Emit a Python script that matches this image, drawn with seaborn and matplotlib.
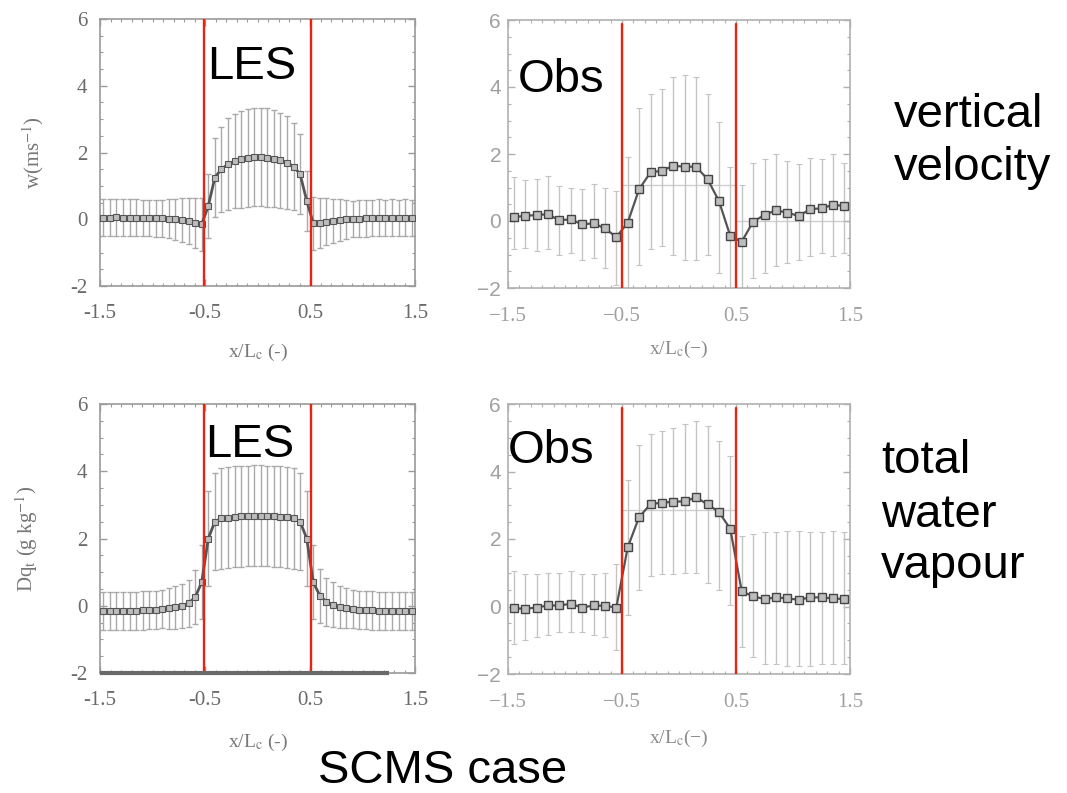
import matplotlib
matplotlib.use("Agg")
import matplotlib.pyplot as plt
from matplotlib.ticker import MultipleLocator
import seaborn as sns

# ---------------- data ----------------
les_x = [-1.46875, -1.40625, -1.34375, -1.28125, -1.21875, -1.15625, -1.09375, -1.03125,
         -0.96875, -0.90625, -0.84375, -0.78125, -0.71875, -0.65625, -0.59375, -0.53125,
         -0.46875, -0.40625, -0.34375, -0.28125, -0.21875, -0.15625, -0.09375, -0.03125,
         0.03125, 0.09375, 0.15625, 0.21875, 0.28125, 0.34375, 0.40625, 0.46875,
         0.53125, 0.59375, 0.65625, 0.71875, 0.78125, 0.84375, 0.90625, 0.96875,
         1.03125, 1.09375, 1.15625, 1.21875, 1.28125, 1.34375, 1.40625, 1.46875]

les_w = [0.05, 0.05, 0.06, 0.05, 0.05, 0.05, 0.04, 0.04, 0.03, 0.03, 0.02, 0.0,
         -0.02, -0.05, -0.10, -0.15, 0.40, 1.25, 1.50, 1.65, 1.74, 1.80, 1.84, 1.86,
         1.86, 1.85, 1.82, 1.77, 1.70, 1.58, 1.35, 0.55, -0.12, -0.10, -0.07, -0.04,
         -0.02, 0.0, 0.01, 0.02, 0.03, 0.04, 0.05, 0.04, 0.05, 0.04, 0.05, 0.04]
les_w_err = [0.55, 0.55, 0.55, 0.55, 0.55, 0.55, 0.55, 0.55, 0.55, 0.55, 0.58, 0.62,
             0.66, 0.70, 0.75, 0.80, 0.95, 1.17, 1.27, 1.38, 1.40, 1.45, 1.47, 1.47,
             1.47, 1.47, 1.45, 1.42, 1.40, 1.30, 1.20, 0.90, 0.80, 0.75, 0.70, 0.66,
             0.62, 0.58, 0.55, 0.55, 0.55, 0.55, 0.55, 0.55, 0.55, 0.55, 0.55, 0.55]

les_q = [-0.15, -0.16, -0.15, -0.16, -0.15, -0.15, -0.14, -0.13, -0.12, -0.10, -0.08, -0.05,
         0.0, 0.08, 0.25, 0.70, 2.00, 2.50, 2.60, 2.62, 2.65, 2.66, 2.67, 2.68,
         2.68, 2.67, 2.66, 2.65, 2.63, 2.60, 2.50, 2.00, 0.70, 0.30, 0.12, 0.03,
         -0.03, -0.07, -0.10, -0.12, -0.13, -0.14, -0.15, -0.15, -0.16, -0.15, -0.16, -0.15]
les_q_err = [0.57, 0.57, 0.57, 0.57, 0.57, 0.57, 0.57, 0.57, 0.57, 0.57, 0.60, 0.63,
             0.66, 0.70, 0.80, 1.10, 1.40, 1.45, 1.50, 1.50, 1.50, 1.50, 1.50, 1.50,
             1.50, 1.50, 1.50, 1.50, 1.50, 1.50, 1.45, 1.40, 1.10, 0.80, 0.72, 0.67,
             0.63, 0.60, 0.57, 0.57, 0.57, 0.57, 0.57, 0.57, 0.57, 0.57, 0.57, 0.57]
les_q_floor_level = -2.0
les_q_floor_extent = [-1.5, 1.25]

obs_x = [-1.45, -1.35, -1.25, -1.15, -1.05, -0.95, -0.85, -0.75, -0.65, -0.55,
         -0.45, -0.35, -0.25, -0.15, -0.05, 0.05, 0.15, 0.25, 0.35, 0.45,
         0.55, 0.65, 0.75, 0.85, 0.95, 1.05, 1.15, 1.25, 1.35, 1.45]

obs_w = [0.12, 0.15, 0.18, 0.20, 0.02, 0.05, -0.10, -0.07, -0.22, -0.48,
         -0.05, 0.95, 1.45, 1.50, 1.65, 1.62, 1.62, 1.25, 0.60, -0.45,
         -0.62, -0.02, 0.18, 0.32, 0.25, 0.15, 0.35, 0.38, 0.48, 0.45]
obs_w_lo = [-0.85, -0.8, -0.9, -0.85, -1.0, -0.95, -1.15, -1.1, -1.4, -1.9,
            -2.3, -1.3, -0.85, -0.75, -1.0, -1.15, -1.15, -1.0, -1.55, -2.2,
            -2.2, -1.7, -1.55, -1.35, -1.25, -1.15, -1.05, -0.95, -1.05, -0.95]
obs_w_hi = [1.3, 1.22, 1.25, 1.35, 1.04, 1.0, 0.96, 1.1, 1.0, 0.9,
            1.92, 3.36, 3.8, 3.95, 4.3, 4.35, 4.3, 3.8, 2.96, 1.62,
            1.07, 1.73, 1.85, 2.0, 1.8, 1.7, 1.88, 1.85, 2.0, 1.74]
obs_w_cloud_mean = 1.07
obs_w_env_mean = 0.0

obs_q = [-0.05, -0.07, -0.03, 0.03, 0.03, 0.08, -0.03, 0.03, 0.02, -0.03,
         1.75, 2.65, 3.03, 3.08, 3.10, 3.12, 3.23, 3.03, 2.80, 2.30,
         0.45, 0.30, 0.22, 0.27, 0.24, 0.20, 0.27, 0.27, 0.24, 0.22]
obs_q_lo = [-1.1, -1.0, -0.9, -0.85, -0.75, -0.75, -0.75, -0.85, -0.9, -1.3,
            -0.25, 0.5, 0.9, 0.95, 0.95, 1.0, 1.0, 0.7, 0.5, 0.05,
            -1.2, -1.5, -1.7, -1.7, -1.75, -1.75, -1.75, -1.7, -1.7, -1.7]
obs_q_hi = [1.05, 0.95, 0.95, 1.0, 1.0, 1.05, 0.95, 0.95, 1.0, 1.25,
            3.75, 4.8, 5.1, 5.2, 5.3, 5.4, 5.5, 5.35, 4.9, 4.45,
            2.1, 2.15, 2.2, 2.2, 2.25, 2.25, 2.2, 2.2, 2.25, 2.2]
obs_q_cloud_mean = 2.85

les_edges = [-0.51, 0.51]
obs_edges = [-0.5, 0.5]

x_ticks = [-1.5, -0.5, 0.5, 1.5]
les_xticklabels = ["-1.5", "-0.5", "0.5", "1.5"]
obs_xticklabels = ["\u22121.5", "\u22120.5", "0.5", "1.5"]
y_ticks = [-2, 0, 2, 4, 6]
les_yticklabels = ["-2", "0", "2", "4", "6"]
obs_yticklabels = ["\u22122", "0", "2", "4", "6"]

# ---------------- style ----------------
sns.set_theme(style="white")
plt.rcParams["font.family"] = ["Liberation Serif", "DejaVu Serif"]
plt.rcParams["mathtext.fontset"] = "stix"

W, H = 1067, 793
fig = plt.figure(figsize=(W / 100, H / 100), dpi=100)


def add_ax(l, t, r, b):
    return fig.add_axes([l / W, 1 - b / H, (r - l) / W, (b - t) / H])


RED = "#e8230f"


def style(ax, spine_c, lab_c, xlabels, ylabels, tick_fs, xpad, ypad, yfont):
    ax.set_xlim(-1.5, 1.5)
    ax.set_ylim(-2, 6)
    ax.set_xticks(x_ticks)
    ax.set_xticklabels(xlabels, fontsize=tick_fs, color=lab_c)
    ax.set_yticks(y_ticks)
    ax.set_yticklabels(ylabels, fontsize=tick_fs, color=lab_c, family=yfont)
    ax.xaxis.set_minor_locator(MultipleLocator(0.1))
    ax.yaxis.set_minor_locator(MultipleLocator(0.5))
    ax.tick_params(which="both", direction="in", bottom=True, top=True,
                   left=True, right=True, color=spine_c)
    ax.tick_params(which="major", length=5, width=1)
    ax.tick_params(which="minor", length=2.5, width=0.8)
    ax.tick_params(axis="x", which="major", pad=xpad)
    ax.tick_params(axis="y", which="major", pad=ypad)
    for s in ax.spines.values():
        s.set_color(spine_c)
        s.set_linewidth(1.2)
    ax.set_facecolor("white")
    ax.grid(False)


def draw_les(ax, y, err):
    ax.errorbar(les_x, y, yerr=err, fmt="none", ecolor="#a9a9a9",
                elinewidth=1.0, capsize=2.5, capthick=1.0, zorder=1)
    sns.lineplot(x=les_x, y=y, ax=ax, color="#555555", lw=2.0, marker="s",
                 markersize=4.2, markerfacecolor="#bdbdbd",
                 markeredgecolor="#555555", markeredgewidth=0.8, zorder=3,
                 errorbar=None)
    for e in les_edges:
        ax.axvline(e, color=RED, lw=1.7, zorder=5)


def draw_obs(ax, y, lo, hi):
    yerr = [[m - a for m, a in zip(y, lo)], [b - m for m, b in zip(y, hi)]]
    ax.errorbar(obs_x, y, yerr=yerr, fmt="none", ecolor="#c4c4c4",
                elinewidth=1.0, capsize=2.0, capthick=0.8, zorder=1)
    sns.lineplot(x=obs_x, y=y, ax=ax, color="#555555", lw=1.6, marker="s",
                 markersize=6, markerfacecolor="#bdbdbd",
                 markeredgecolor="#444444", markeredgewidth=1.0, zorder=3,
                 errorbar=None)
    for e in obs_edges:
        ax.axvline(e, ymax=0.985, color=RED, lw=1.7, zorder=5)


# top-left: LES w
ax1 = add_ax(100, 19, 415, 286)
draw_les(ax1, les_w, les_w_err)
style(ax1, "#9a9a9a", "#6a6a6a", les_xticklabels, les_yticklabels, 15, 13, 9,
      ["Liberation Serif"])
ax1.set_xlabel("x/L$_\\mathrm{c}$ (-)", fontsize=14, color="#777777")
ax1.xaxis.set_label_coords(0.5, -0.21)
ax1.set_ylabel("w(ms$^{-1}$)", fontsize=15, color="#777777")
ax1.yaxis.set_label_coords(-0.17, 0.5)

# top-right: Obs w
ax2 = add_ax(508, 20, 850, 288)
ax2.hlines(obs_w_cloud_mean, obs_edges[0], obs_edges[1], color="#cfcfcf", lw=1.0, zorder=0)
ax2.hlines(obs_w_env_mean, obs_edges[1], 1.5, color="#cfcfcf", lw=1.0, zorder=0)
draw_obs(ax2, obs_w, obs_w_lo, obs_w_hi)
style(ax2, "#b0b0b0", "#a0a0a0", obs_xticklabels, obs_yticklabels, 15, 14, 5,
      ["Liberation Sans"])
ax2.set_xlabel("x/L$_\\mathrm{c}$(\u2212)", fontsize=14, color="#8a8a8a")
ax2.xaxis.set_label_coords(0.5, -0.19)

# bottom-left: LES q
ax3 = add_ax(100, 404, 415, 673)
ax3.hlines(les_q_floor_level, les_q_floor_extent[0], les_q_floor_extent[1],
           color="#6a6a6a", lw=3.0, zorder=6, clip_on=False)
draw_les(ax3, les_q, les_q_err)
style(ax3, "#9a9a9a", "#6a6a6a", les_xticklabels, les_yticklabels, 15, 13, 9,
      ["Liberation Serif"])
ax3.set_xlabel("x/L$_\\mathrm{c}$ (-)", fontsize=14, color="#777777")
ax3.xaxis.set_label_coords(0.5, -0.22)
ax3.set_ylabel("Dq$_\\mathrm{t}$ (g kg$^{-1}$)", fontsize=15, color="#777777")
ax3.yaxis.set_label_coords(-0.19, 0.5)

# bottom-right: Obs q
ax4 = add_ax(508, 404, 850, 674)
ax4.hlines(obs_q_cloud_mean, obs_edges[0], obs_edges[1], color="#cfcfcf", lw=1.0, zorder=0)
draw_obs(ax4, obs_q, obs_q_lo, obs_q_hi)
style(ax4, "#b0b0b0", "#a0a0a0", obs_xticklabels, obs_yticklabels, 15, 14, 5,
      ["Liberation Sans"])
ax4.set_xlabel("x/L$_\\mathrm{c}$(\u2212)", fontsize=14, color="#8a8a8a")
ax4.xaxis.set_label_coords(0.5, -0.2)

# big slide labels
BIG = dict(fontsize=34, family=["Liberation Sans", "DejaVu Sans"], color="black",
           va="baseline", ha="left")


def ftext(x, y, s):
    fig.text(x / W, 1 - y / H, s, **BIG)


ftext(207, 79, "LES")
ftext(518, 92, "Obs")
ftext(205, 457, "LES")
ftext(508, 463, "Obs")
ftext(894, 127, "vertical")
ftext(894, 180, "velocity")
ftext(881, 473, "total")
ftext(881, 527, "water")
ftext(881, 578, "vapour")
ftext(318, 783, "SCMS case")

fig.savefig("out.png", dpi=100, facecolor="white")
